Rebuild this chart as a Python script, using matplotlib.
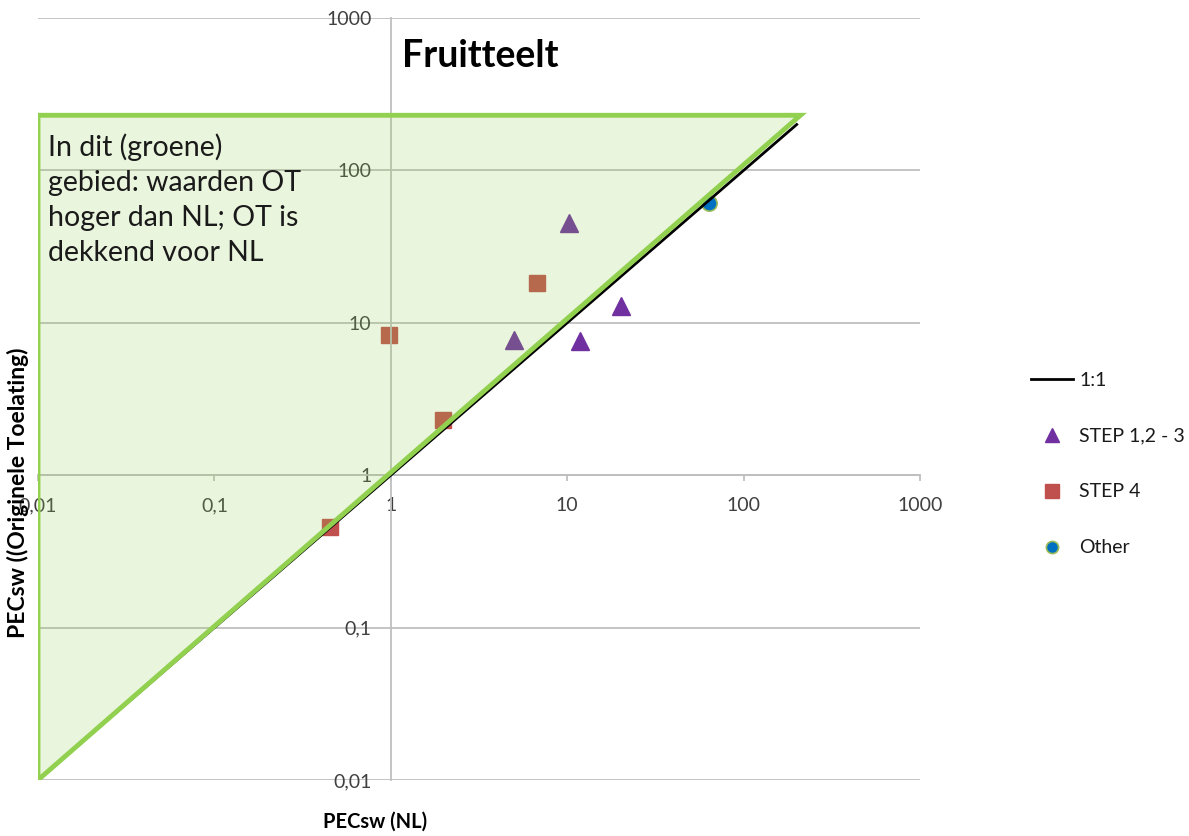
import matplotlib
matplotlib.use("Agg")
import matplotlib.pyplot as plt
from matplotlib.ticker import FixedLocator, FuncFormatter, NullLocator

plt.rcParams['font.family'] = ['Lato', 'DejaVu Sans']

# 1:1 reference line
line_x = [0.01, 200]
line_y = [0.01, 200]

# green area (OT higher than NL)
area_x = [0.01, 0.01, 210]
area_y = [0.01, 230, 230]

# PECsw values (NL, original authorisation)
step123_nl = [5.0, 10.2, 11.8, 20.2]
step123_ot = [7.7, 45.0, 7.6, 12.9]
step4_nl = [0.98, 6.75, 1.98, 0.45]
step4_ot = [8.3, 18.2, 2.3, 0.46]
other_nl = [63.5]
other_ot = [61.5]

decades = [0.01, 0.1, 1, 10, 100, 1000]

GREY = '#BFBFBF'
TXT = '#404040'


def comma_fmt(v, pos=None):
    s = ('%g' % v).replace('.', ',')
    return s


fig = plt.figure(figsize=(11.89, 8.36), dpi=100)
ax = fig.add_axes([38 / 1189, 1 - 780 / 836, (920 - 38) / 1189, (780 - 18) / 836])
ax.set_xscale('log')
ax.set_yscale('log')
ax.set_xlim(0.01, 1000)
ax.set_ylim(0.01, 1000)

# axes cross at (1, 1)
ax.spines['top'].set_visible(False)
ax.spines['right'].set_visible(False)
ax.spines['left'].set_position(('data', 1))
ax.spines['bottom'].set_position(('data', 1))
for s in ('left', 'bottom'):
    ax.spines[s].set_color(GREY)
    ax.spines[s].set_linewidth(1.3)

for axis in (ax.xaxis, ax.yaxis):
    axis.set_major_locator(FixedLocator(decades))
    axis.set_minor_locator(NullLocator())
    axis.set_major_formatter(FuncFormatter(comma_fmt))
ax.tick_params(axis='x', direction='out', length=4, width=1.3, color=GREY,
               pad=12, labelsize=14, labelcolor=TXT)
ax.tick_params(axis='y', length=0, pad=14, labelsize=14, labelcolor=TXT)
ax.yaxis.grid(True, color=GREY, linewidth=1.3)
ax.set_axisbelow(True)

ax.plot(step123_nl, step123_ot, linestyle='none', marker='^', markersize=13,
        color='#7030A0', zorder=2, label='STEP 1,2 - 3')
ax.plot(step4_nl, step4_ot, linestyle='none', marker='s', markersize=12,
        color='#C0504D', zorder=2, label='STEP 4')
ax.plot(other_nl, other_ot, linestyle='none', marker='o', markersize=11,
        markerfacecolor='#0070C0', markeredgecolor='#9BBB59', markeredgewidth=1.2,
        zorder=2, label='Other')

ax.fill(area_x, area_y, facecolor='#92D050', alpha=0.2, edgecolor='none', zorder=3)
ax.plot(line_x, line_y, color='black', linewidth=2, zorder=3.5, label='1:1')
ax.fill(area_x, area_y, facecolor='none', edgecolor='#92D050', linewidth=3.5,
        joinstyle='miter', zorder=4)

fig.text(402 / 1189, 1 - 67 / 836, 'Fruitteelt', fontsize=27, fontweight='bold',
         ha='left', va='baseline')
fig.text(48 / 1189, 1 - 133 / 836,
         'In dit (groene)\ngebied: waarden OT\nhoger dan NL; OT is\ndekkend voor NL',
         fontsize=20.5, ha='left', va='top', linespacing=1.44, color='#1a1a1a')

fig.text(375 / 1189, 1 - 822 / 836, 'PECsw (NL)', fontsize=14.5, fontweight='bold',
         ha='center', va='center')
fig.text(18 / 1189, 1 - 493 / 836, 'PECsw ((Originele Toelating)', fontsize=16.5,
         fontweight='bold', ha='center', va='center', rotation=90)

handles, labels = ax.get_legend_handles_labels()
order = [labels.index(l) for l in ['1:1', 'STEP 1,2 - 3', 'STEP 4', 'Other']]
fig.legend([handles[i] for i in order], [labels[i] for i in order],
           loc='center left', bbox_to_anchor=(1013 / 1189, 1 - 464 / 836),
           frameon=False, fontsize=14, labelspacing=2.0, handlelength=2.2,
           handletextpad=0.3, markerscale=0.8, labelcolor='#1a1a1a')

fig.savefig('out.png', dpi=100)
